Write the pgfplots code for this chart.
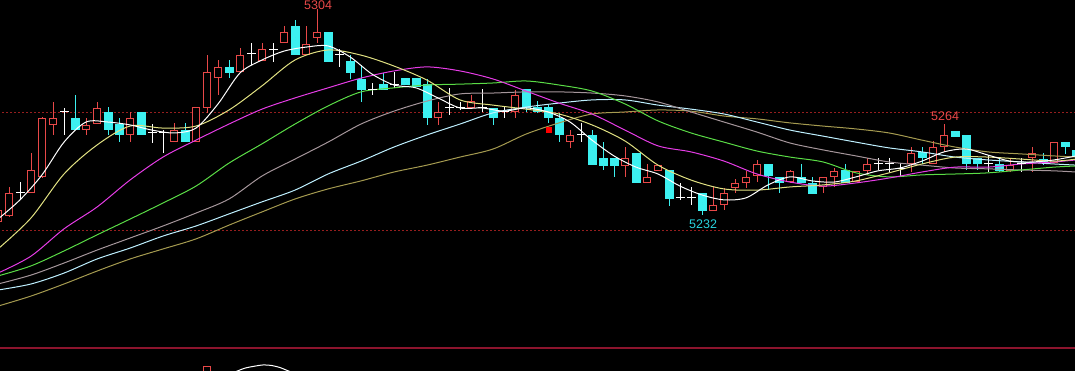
\documentclass[border=0pt]{standalone}
\usepackage{pgfplots}
\usepackage{pgfplotstable}
\usepackage{fontspec}
\setmainfont{Liberation Sans}
\pgfplotsset{compat=1.18}
\definecolor{upred}{RGB}{232,72,72}
\definecolor{dncyan}{RGB}{60,240,240}
\definecolor{may}{RGB}{225,225,130}
\definecolor{mam}{RGB}{230,60,230}
\definecolor{mag}{RGB}{90,220,70}
\definecolor{magr}{RGB}{165,150,155}
\definecolor{mac}{RGB}{190,240,255}
\definecolor{mao}{RGB}{165,155,80}
\definecolor{gridred}{RGB}{150,30,30}
\definecolor{sepred}{RGB}{140,20,45}
\definecolor{lblcyan}{RGB}{40,210,220}

\pgfplotsset{
  nomark/.style={only marks, mark=*, mark size=0pt, mark options={draw=none, fill=none}},
}

\pgfplotstableread{
x O H L C
0 5229.8 5235.0 5229.1 5234.0
1 5231.9 5242.0 5231.5 5239.9
3 5239.9 5253.8 5239.9 5247.9
4 5245.5 5266.4 5245.1 5266.0
5 5263.6 5271.6 5260.1 5266.0
8 5261.8 5266.0 5260.1 5263.6
9 5263.9 5271.6 5263.9 5269.8
12 5260.1 5268.1 5257.6 5266.0
16 5257.6 5264.3 5257.6 5261.8
18 5257.6 5269.8 5257.6 5269.8
19 5269.5 5288.0 5267.8 5282.0
20 5279.9 5286.2 5274.0 5283.8
22 5282.0 5290.4 5282.0 5288.0
24 5285.9 5292.1 5285.9 5290.0
26 5292.1 5298.0 5292.1 5296.0
28 5288.0 5298.0 5288.0 5292.1
29 5293.9 5304.0 5292.1 5296.0
40 5266.0 5271.6 5263.6 5268.1
43 5269.5 5274.0 5269.5 5271.9
47 5268.1 5275.8 5266.0 5274.0
52 5257.6 5261.8 5255.6 5260.1
57 5249.6 5255.9 5245.5 5252.1
59 5243.4 5250.3 5243.4 5245.5
60 5247.6 5249.6 5247.6 5249.6
65 5233.6 5242.0 5233.6 5235.7
66 5235.7 5241.6 5234.0 5239.9
67 5241.6 5244.8 5239.9 5243.4
68 5243.4 5247.6 5241.6 5245.5
69 5245.8 5251.4 5243.7 5250.0
72 5243.7 5247.9 5243.4 5247.6
75 5242.0 5245.5 5239.9 5245.5
76 5245.5 5248.6 5242.0 5247.6
78 5243.7 5247.6 5243.7 5247.6
79 5247.6 5252.1 5246.2 5250.0
83 5250.0 5255.9 5247.2 5253.8
85 5250.0 5258.0 5250.0 5255.9
86 5255.9 5263.9 5254.2 5260.1
92 5247.6 5252.1 5247.2 5249.6
94 5252.1 5255.9 5247.2 5253.8
96 5250.3 5257.6 5250.3 5257.6
}\up

\pgfplotstableread{
x O H L C
7 5266.0 5274.0 5261.8 5261.8
10 5268.1 5269.8 5260.1 5261.8
11 5263.9 5266.0 5257.6 5260.1
13 5268.1 5268.1 5260.1 5260.1
17 5261.8 5264.3 5257.6 5257.6
21 5283.8 5286.2 5279.9 5281.7
27 5298.0 5300.1 5288.0 5288.0
30 5296.0 5296.0 5285.5 5285.5
32 5285.9 5288.0 5279.9 5281.7
33 5279.9 5284.5 5271.6 5275.8
35 5277.8 5281.7 5275.8 5275.8
37 5279.9 5279.9 5277.5 5277.5
38 5279.9 5279.9 5276.8 5276.8
39 5277.8 5279.9 5263.6 5266.0
45 5269.5 5269.5 5263.6 5266.0
48 5276.1 5276.1 5268.1 5269.8
49 5269.8 5271.9 5267.8 5268.1
50 5269.8 5270.5 5264.3 5266.0
51 5266.0 5267.8 5257.6 5260.1
54 5260.1 5261.8 5249.6 5249.6
55 5252.1 5257.6 5247.9 5249.6
56 5252.1 5252.1 5245.5 5249.6
58 5253.8 5253.8 5243.4 5243.4
61 5247.9 5247.9 5235.4 5237.8
64 5239.9 5239.9 5232.2 5233.6
70 5250.0 5250.0 5240.9 5245.8
71 5245.5 5245.5 5239.9 5243.4
73 5245.5 5250.0 5243.4 5243.4
74 5243.4 5245.5 5239.5 5239.5
77 5247.9 5250.0 5243.4 5243.4
84 5254.2 5255.9 5250.0 5252.1
87 5261.8 5261.8 5259.7 5259.7
88 5260.1 5260.1 5247.9 5250.0
89 5252.1 5252.1 5247.9 5250.0
91 5250.0 5252.1 5247.2 5247.6
95 5251.7 5253.8 5249.6 5250.3
97 5257.6 5257.6 5253.5 5255.9
98 5254.9 5254.9 5252.4 5252.4
}\down

\pgfplotstableread{
x O H L C
2 5239.9 5243.7 5237.5 5239.9
6 5268.1 5269.5 5260.1 5268.1
14 5261.1 5263.9 5257.6 5261.1
15 5261.1 5261.8 5253.8 5261.1
23 5288.3 5292.1 5284.5 5288.3
25 5290.0 5292.1 5285.5 5290.0
31 5288.0 5290.0 5283.8 5288.0
34 5275.8 5278.2 5274.0 5275.8
36 5277.5 5282.0 5276.5 5277.5
41 5269.5 5276.5 5267.1 5269.5
42 5269.5 5271.6 5268.8 5269.5
44 5269.5 5276.1 5268.1 5269.5
46 5268.4 5269.8 5266.0 5268.4
53 5260.1 5264.3 5257.6 5260.1
62 5238.2 5243.4 5237.5 5238.2
63 5238.2 5242.0 5235.7 5238.2
80 5250.0 5252.1 5247.9 5250.0
81 5250.0 5252.1 5247.2 5250.0
82 5248.3 5250.3 5245.8 5248.3
90 5250.3 5253.1 5247.2 5250.3
93 5250.3 5252.1 5247.2 5250.3
}\doji

\begin{document}
\begin{tikzpicture}
\useasboundingbox (0,0) rectangle (1075bp,371bp);
\clip (0,0) rectangle (1075bp,371bp);
\fill[black] (0,0) rectangle (1075bp,371bp);
\begin{axis}[
  at={(0,0)}, anchor=south west,
  width=1075bp, height=371bp, scale only axis,
  xmin=0.1818, xmax=97.909, ymin=5177.9, ymax=5307.1,
  hide axis, clip=true,
]
% grid / separator lines
\addplot[gridred, line width=1bp, dash pattern=on 2bp off 2bp] coordinates {(0,5267.8) (99,5267.8)};
\addplot[gridred, line width=1bp, dash pattern=on 2bp off 2bp] coordinates {(0,5227.0) (99,5227.0)};
\addplot[sepred, line width=1.5bp] coordinates {(0,5185.9) (99,5185.9)};

% wicks
\addplot[nomark, error bars/.cd, y dir=both, y explicit, error mark=none,
  error bar style={line width=1bp, upred}]
  table[x=x, y expr=(\thisrow{H}+\thisrow{L})/2, y error expr=(\thisrow{H}-\thisrow{L})/2] {\up};
\addplot[nomark, error bars/.cd, y dir=both, y explicit, error mark=none,
  error bar style={line width=1bp, dncyan}]
  table[x=x, y expr=(\thisrow{H}+\thisrow{L})/2, y error expr=(\thisrow{H}-\thisrow{L})/2] {\down};
\addplot[nomark, error bars/.cd, y dir=both, y explicit, error mark=none,
  error bar style={line width=1bp, white}]
  table[x=x, y expr=(\thisrow{H}+\thisrow{L})/2, y error expr=(\thisrow{H}-\thisrow{L})/2] {\doji};

% bodies
\addplot[nomark, error bars/.cd, y dir=both, y explicit, error mark=none,
  error bar style={line width=8.5bp, upred}]
  table[x=x, y expr=(\thisrow{O}+\thisrow{C})/2, y error expr=(\thisrow{C}-\thisrow{O})/2] {\up};
\addplot[nomark, error bars/.cd, y dir=both, y explicit, error mark=none,
  error bar style={line width=6.5bp, black}]
  table[x=x, y expr=(\thisrow{O}+\thisrow{C})/2, y error expr={max((\thisrow{C}-\thisrow{O})/2-0.35,0)}] {\up};
\addplot[nomark, error bars/.cd, y dir=both, y explicit, error mark=none,
  error bar style={line width=9bp, dncyan}]
  table[x=x, y expr=(\thisrow{O}+\thisrow{C})/2, y error expr=(\thisrow{O}-\thisrow{C})/2] {\down};
\addplot[only marks, white, mark=-, mark size=4.5bp, mark options={line width=1bp}]
  table[x=x, y=O] {\doji};

% signal marker
\addplot[only marks, mark=square*, mark size=2.5bp, color=red] coordinates {(50.1,5261.8)};

% lower pane fragments
\addplot[nomark, error bars/.cd, y dir=both, y explicit, error mark=none,
  error bar style={line width=8.5bp, upred}]
  coordinates {(19,5175.0) +- (0,4.6)};
\addplot[nomark, error bars/.cd, y dir=both, y explicit, error mark=none,
  error bar style={line width=6.5bp, black}]
  coordinates {(19,5175.0) +- (0,4.25)};
\addplot[white, line width=1bp, smooth] coordinates {(21.64,5177.7) (22.45,5178.9) (23.36,5179.6) (24.09,5180.0) (24.9,5179.8) (25.64,5179.1) (26.09,5178.4) (26.55,5177.7)};

% moving averages
\addplot[mao, line width=1bp, smooth] coordinates {(0,5200.5)(3,5204.0)(6,5208.2)(9,5212.7)(12,5216.9)(15,5220.4)(18,5223.9)(21,5228.7)(24,5233.3)(27,5237.8)(30,5241.3)(33,5244.1)(36,5247.2)(39,5249.6)(42,5252.4)(45,5255.2)(48,5260.4)(51,5264.3)(54,5267.4)(57,5268.1)(60,5268.8)(63,5268.4)(66,5266.7)(69,5265.7)(72,5264.3)(75,5263.2)(78,5262.2)(81,5260.8)(84,5258.3)(87,5255.9)(90,5254.2)(93,5253.5)(96,5252.8)(98,5252.4)};
\addplot[mac, line width=1bp, smooth] coordinates {(0,5206.1)(3,5208.2)(6,5212.0)(9,5216.9)(12,5220.7)(15,5224.9)(18,5228.4)(21,5232.6)(24,5236.8)(27,5240.9)(30,5246.5)(33,5251.0)(36,5255.9)(39,5260.1)(42,5263.9)(45,5267.8)(48,5269.8)(51,5271.2)(54,5272.3)(57,5272.3)(60,5270.5)(63,5269.1)(66,5267.4)(69,5264.6)(72,5261.8)(75,5259.7)(78,5257.6)(81,5255.6)(84,5254.2)(87,5252.4)(90,5251.4)(93,5250.7)(96,5250.0)(98,5249.6)};
\addplot[magr, line width=1bp, smooth] coordinates {(0,5208.2)(3,5211.3)(6,5215.5)(9,5220.0)(12,5224.2)(15,5228.4)(18,5232.9)(21,5237.8)(24,5245.8)(27,5251.7)(30,5257.6)(33,5263.9)(36,5268.4)(39,5271.9)(42,5274.4)(45,5274.7)(48,5275.1)(51,5275.1)(54,5274.7)(57,5273.7)(60,5271.6)(63,5268.1)(66,5264.6)(69,5261.1)(72,5257.3)(75,5254.9)(78,5252.8)(81,5250.7)(84,5249.6)(87,5248.6)(90,5248.3)(93,5247.9)(96,5247.6)(98,5247.2)};
\addplot[mag, line width=1bp, smooth] coordinates {(0,5211.0)(3,5214.5)(6,5219.7)(9,5225.3)(12,5230.8)(15,5236.4)(18,5242.3)(21,5250.3)(24,5257.0)(27,5263.9)(30,5270.2)(33,5275.1)(36,5276.5)(39,5277.5)(42,5277.8)(45,5278.2)(48,5278.9)(51,5277.5)(54,5275.4)(57,5270.9)(60,5265.0)(63,5260.8)(66,5257.6)(69,5254.5)(72,5252.4)(75,5250.7)(78,5246.9)(81,5245.5)(84,5246.2)(87,5246.5)(90,5246.9)(93,5247.9)(96,5248.9)(98,5249.3)};
\addplot[mam, line width=1bp, smooth] coordinates {(0,5212.0)(3,5217.9)(6,5227.4)(9,5235.0)(12,5244.4)(15,5252.4)(18,5258.3)(21,5263.9)(24,5269.1)(27,5273.0)(30,5276.5)(33,5279.9)(36,5282.4)(39,5283.8)(42,5282.4)(45,5279.6)(48,5275.4)(51,5271.2)(54,5267.4)(57,5261.8)(60,5256.3)(63,5254.2)(66,5251.0)(69,5246.5)(72,5243.7)(75,5242.3)(78,5243.4)(81,5245.1)(84,5247.2)(87,5248.9)(90,5248.9)(93,5250.0)(96,5250.7)(98,5251.4)};
\addplot[may, line width=1bp, smooth] coordinates {(0,5220.4)(3,5231.2)(6,5246.5)(9,5256.6)(12,5263.2)(15,5262.5)(18,5263.2)(21,5268.8)(24,5277.2)(27,5286.2)(30,5289.7)(33,5287.9)(36,5284.1)(39,5279.2)(42,5272.3)(45,5270.5)(48,5269.1)(51,5267.4)(54,5263.6)(57,5258.0)(60,5249.6)(63,5244.4)(66,5241.3)(69,5240.9)(72,5242.0)(75,5242.7)(78,5244.1)(81,5246.9)(84,5250.0)(87,5252.4)(90,5252.4)(93,5251.7)(96,5251.0)(98,5251.7)};
\addplot[white, line width=1bp, smooth] coordinates {(0,5230.8)(2,5237.5)(4,5246.2)(6,5257.6)(8,5264.6)(10,5264.6)(12,5263.6)(14,5261.8)(16,5260.8)(18,5262.5)(20,5270.9)(22,5281.7)(24,5286.2)(26,5289.3)(28,5290.7)(30,5291.1)(32,5287.3)(34,5281.3)(36,5277.5)(38,5276.5)(40,5273.0)(42,5269.5)(44,5269.5)(46,5268.4)(48,5269.5)(50,5268.1)(52,5264.6)(54,5258.3)(56,5252.8)(58,5248.9)(60,5246.5)(62,5242.3)(64,5239.2)(66,5237.5)(68,5238.2)(70,5242.7)(72,5245.5)(74,5244.1)(76,5243.7)(78,5245.5)(80,5247.6)(82,5248.6)(84,5251.0)(86,5254.2)(88,5255.2)(90,5253.1)(92,5251.0)(94,5250.7)(96,5251.4)(98,5252.8)};

% labels
\node[anchor=base, text=upred, font=\fontsize{12.5bp}{14bp}\selectfont, inner sep=0pt] at (axis cs:29.1,5303.9) {5304};
\node[anchor=base, text=upred, font=\fontsize{12.5bp}{14bp}\selectfont, inner sep=0pt] at (axis cs:86.1,5265.3) {5264};
\node[anchor=base, text=lblcyan, font=\fontsize{12.5bp}{14bp}\selectfont, inner sep=0pt] at (axis cs:64.1,5227.4) {5232};
\end{axis}
\end{tikzpicture}
\end{document}
